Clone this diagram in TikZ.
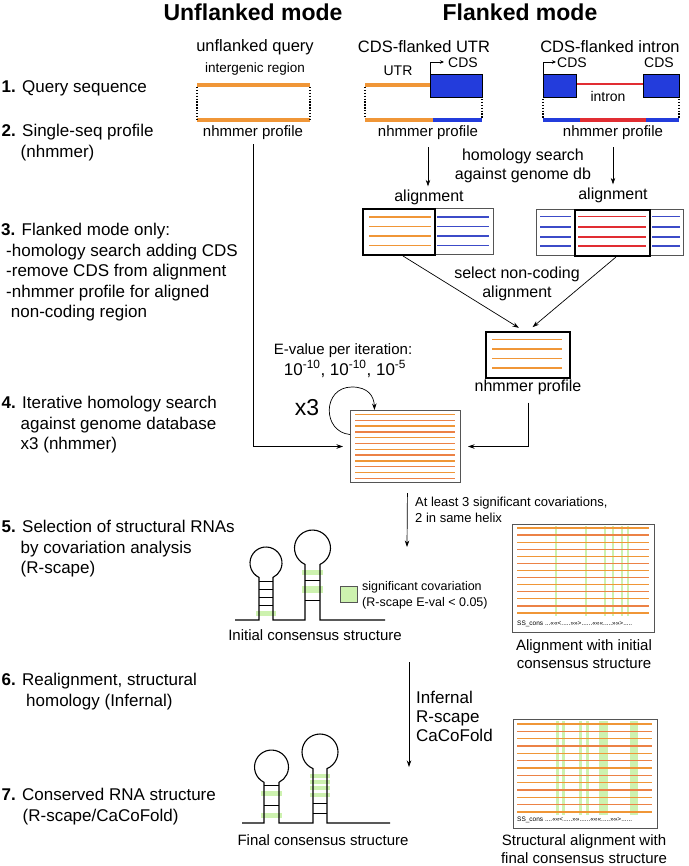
\documentclass[tikz,border=0pt]{standalone}
\usepackage{fontspec}
\setmainfont{Liberation Sans}
\usetikzlibrary{arrows.meta}
\definecolor{cor}{RGB}{240,150,55}
\definecolor{cor2}{RGB}{236,130,70}
\definecolor{cblue}{RGB}{35,60,220}
\definecolor{cbl}{RGB}{60,75,200}
\definecolor{cred}{RGB}{225,45,50}
\definecolor{cgreen}{RGB}{205,242,175}
\definecolor{cgray}{RGB}{85,85,85}
\newcommand\fsz[2]{\fontsize{#1}{#2}\selectfont}
\begin{document}
\begin{tikzpicture}[x=1pt,y=-1pt,
  txt/.style={inner sep=0pt, align=center},
  steplbl/.style={anchor=north west, inner sep=0pt, align=left, font=\fsz{17}{20.5}},
  arr/.style={-{Stealth[length=6.5pt,width=4.5pt]}, line width=0.7pt},
  smallarr/.style={-{Stealth[length=4pt,width=3.5pt]}, line width=0.7pt},
  dotv/.style={line width=1.4pt, dash pattern=on 1.3pt off 1.6pt},
  seq/.style={line width=3.2pt},
  alnline/.style={line width=1.25pt},
  cds/.style={draw=black, line width=0.6pt, fill=cblue, inner sep=0pt, anchor=north west, minimum height=23},
  panel/.style={draw=cgray, line width=1pt, inner sep=0pt, anchor=north west},
  thickbox/.style={draw=black, line width=2pt, inner sep=0pt, anchor=north west},
  stem/.style={line width=1.1pt},
  rung/.style={line width=0.9pt},
  gbar/.style={fill=cgreen, draw=none},
]
\useasboundingbox (0,0) rectangle (688,866);
% ---------------- headers
\node[txt, font=\fsz{23}{26}\bfseries] (hu) at (253,12) {Unflanked mode};
\node[txt, font=\fsz{23}{26}\bfseries] (hf) at (520,12) {Flanked mode};
% ---------------- step labels
\node[steplbl] (s1) at (1.5,80) {\textbf{1.} Query sequence};
\node[steplbl] (s2) at (1.5,124) {\textbf{2.} Single-seq profile\\\hspace*{19pt}(nhmmer)};
\node[steplbl] (s3) at (1,223) {\textbf{3.} Flanked mode only:\\\hspace*{5pt}-homology search adding CDS\\\hspace*{5pt}-remove CDS from alignment\\\hspace*{5pt}-nhmmer profile for aligned\\\hspace*{9.7pt}non-coding region};
\node[steplbl] (s4) at (1.5,396) {\textbf{4.} Iterative homology search\\\hspace*{19pt}against genome database\\\hspace*{19pt}x3 (nhmmer)};
\node[steplbl] (s5) at (1.5,520) {\textbf{5.} Selection of structural RNAs\\\hspace*{19pt}by covariation analysis\\\hspace*{19pt}(R-scape)};
\node[steplbl] (s6) at (1.5,673) {\textbf{6.} Realignment, structural\\\hspace*{24.5pt}homology (Infernal)};
\node[steplbl] (s7) at (1.5,788) {\textbf{7.} Conserved RNA structure\\\hspace*{21pt}(R-scape/CaCoFold)};
% ---------------- unflanked query
\node[txt, font=\fsz{16.5}{19}] (uq) at (255,47) {unflanked query};
\node[txt, font=\fsz{13.5}{16}] (ig) at (255,69) {intergenic region};
\draw[seq, cor] (197,85) -- (310,85);
\draw[seq, cor] (197,120) -- (310,120);
\draw[dotv] (197,87) -- (197,119);
\draw[dotv] (310,87) -- (310,119);
\node[txt, font=\fsz{15}{18}] (unp) at (253,133) {nhmmer profile};
% ---------------- CDS-flanked UTR
\node[txt, font=\fsz{16.5}{19}] (utrt) at (424,47) {CDS-flanked UTR};
\node[txt, font=\fsz{14}{16}] (utrl) at (398,71) {UTR};
\draw[seq, cor] (365,85) -- (431,85);
\node[cds, minimum width=52] (cds1) at (430,74) {};
\draw[smallarr] (cds1.north west) -- ++(0,-12) -- ++(14,0);
\node[txt, font=\fsz{14}{16}] (cdsl1) at (463,63) {CDS};
\draw[dotv] (365,87) -- (365,118);
\draw[dotv] (482,99) -- (482,118);
\draw[seq, cor] (365,120) -- (433,120);
\draw[seq, cblue] (433,120) -- (482,120);
\node[txt, font=\fsz{15}{18}] (utrp) at (428,133) {nhmmer profile};
% ---------------- CDS-flanked intron
\node[txt, font=\fsz{16.5}{19}] (intt) at (610,47) {CDS-flanked intron};
\draw[line width=2.8pt, cred] (576,84) -- (643,84);
\node[cds, minimum width=33] (cds2) at (543,74) {};
\node[cds, minimum width=36] (cds3) at (643,74) {};
\draw[smallarr] (cds2.north west) -- ++(0,-12) -- ++(13,0);
\node[txt, font=\fsz{14}{16}] (cdsl2) at (572,63) {CDS};
\node[txt, font=\fsz{14}{16}] (cdsl3) at (659,63) {CDS};
\node[txt, font=\fsz{14}{16}] (intl) at (608,96) {intron};
\draw[dotv] (543,99) -- (543,118);
\draw[dotv] (679,99) -- (679,118);
\draw[seq, cblue] (543,120) -- (580,120);
\draw[seq, cred] (580,120) -- (646,120);
\draw[seq, cblue] (646,120) -- (679,120);
\node[txt, font=\fsz{15}{18}] (intp) at (613,133) {nhmmer profile};
% ---------------- homology search to alignments
\node[txt, font=\fsz{16}{18.5}] (hom) at (523,166) {homology search\\against genome db};
\node[txt, font=\fsz{16}{18}] (al1l) at (429,197) {alignment};
\node[txt, font=\fsz{16}{18}] (al2l) at (613,195) {alignment};
\draw[arr, shorten <=7pt, shorten >=3pt] (utrp.south) -- (utrp.south |- al1l.north);
\draw[arr, shorten <=7pt, shorten >=3pt] (intp.south) -- (intp.south |- al2l.north);
% alignment 1
\node[panel, minimum width=131, minimum height=46] (aln1) at (362,208) {};
\foreach \yy in {217,226.5,236,245.5} {
  \draw[alnline, cor] (369,\yy) -- (431,\yy);
  \draw[alnline, cbl] (437,\yy) -- (489,\yy);
}
\node[thickbox, minimum width=72, minimum height=46] (aln1in) at (362,208) {};
% alignment 2
\node[panel, minimum width=147, minimum height=46] (aln2) at (536,209) {};
\foreach \yy in {216.5,227,237,246} {
  \draw[alnline, cbl] (540,\yy) -- (571,\yy);
  \draw[alnline, cred] (578,\yy) -- (646,\yy);
  \draw[alnline, cbl] (652,\yy) -- (680,\yy);
}
\node[thickbox, minimum width=75, minimum height=46] (aln2in) at (574,209) {};
% select non-coding
\node[txt, font=\fsz{16}{18.5}] (sel) at (517,284) {select non-coding\\alignment};
\node[thickbox, minimum width=84, minimum height=46] (prof) at (485,331) {};
\foreach \yy in {339.5,349,358.5,368} \draw[alnline, cor] (492,\yy) -- (562,\yy);
\node[txt, font=\fsz{16}{18}] (profl) at (528,387) {nhmmer profile};
\draw[arr, shorten >=6pt] ([xshift=4pt]aln1in.south) -- ([xshift=-4pt]prof.north);
\draw[arr, shorten >=6pt] ([xshift=3.5pt]aln2in.south) -- (prof.north);
% ---------------- iterative search
\node[panel, minimum width=110, minimum height=72] (iter) at (350,410) {};
\foreach \i in {0,...,11} {
  \pgfmathsetmacro\yy{414.5+5.8*\i}
  \ifodd\i\def\cc{cor2}\else\def\cc{cor}\fi
  \draw[alnline, \cc] (355,\yy) -- (455,\yy);
}
\draw[arr, shorten <=4pt, shorten >=7pt] (unp.south) |- (iter.west);
\draw[arr, shorten <=8pt, shorten >=7pt] (profl.south) |- (iter.east);
\node[txt, font=\fsz{15}{18}] (ev1) at (343,351) {E-value per iteration:};
\node[txt, font=\fsz{17}{19}] (ev2) at (345,369) {10\textsuperscript{-10}, 10\textsuperscript{-10}, 10\textsuperscript{-5}};
\node[txt, font=\fsz{23}{26}] (x3) at (307,408) {x3};
\draw[arr] ([yshift=12pt]iter.west) .. controls (322,432) and (322,387) .. (352,387) .. controls (368,387) and (374,396) .. ([xshift=-31pt]iter.north);
% ---------------- arrow to step 5
\coordinate (a5e) at (407,547);
\draw[arr, shorten <=10pt] ([xshift=2pt]iter.south) -- (a5e);
\node[anchor=north west, inner sep=0pt, align=left, font=\fsz{13}{15.5}] (a5l) at (415,497) {At least 3 significant covariations,\\2 in same helix};
% ---------------- initial structure
\fill[gbar] (256,610.5) rectangle (276,615.5);
\fill[gbar] (302,569.5) rectangle (323,574.5);
\fill[gbar] (302,586) rectangle (323,593);
\draw[stem] (235,620) -- (259,620) -- (259,577.4) arc[start angle=244.06, end angle=-64.06, radius=16pt] -- (273,620) -- (305,620) -- (305,564.4) arc[start angle=245.4, end angle=-65.4, radius=18pt] -- (320,620) -- (385,620);
\foreach \yy in {581,589,597,605} \draw[rung] (259,\yy) -- (273,\yy);
\foreach \yy in {580,600} \draw[rung] (305,\yy) -- (320,\yy);
\node[draw=cgray, fill=cgreen, line width=0.6pt, minimum width=17, minimum height=16, inner sep=0pt] (leg) at (348.5,594) {};
\node[anchor=west, inner sep=0pt, align=left, font=\fsz{12.5}{16}] (legt) at (362,595) {significant covariation\\(R-scape E-val < 0.05)};
\node[txt, font=\fsz{15}{18}] (ics) at (315,635) {Initial consensus structure};
% ---------------- panel 1
\node[panel, minimum width=142, minimum height=108] (pan1) at (512,524) {};
\foreach \xx in {556,586,605,613,622,628} \fill[gbar] ({\xx-1.4},526) rectangle ({\xx+1.4},616);
\foreach \i in {0,...,12} {
  \pgfmathsetmacro\yy{528+7.08*\i}
  \ifodd\i\def\cc{cor2}\else\def\cc{cor}\fi
  \draw[alnline, \cc] (517,\yy) -- (649,\yy);
}
\node[anchor=west, inner sep=0pt, font=\fsz{6.5}{7}] (ss1) at (517,624) {SS\_cons ...<<<<<.....>>>>>......<<<<<<.....>>>>>.....};
\node[txt, font=\fsz{15}{18}] (cap1) at (584,654) {Alignment with initial\\consensus structure};
% ---------------- arrow to step 6/7
\coordinate (a6s) at (409,662);
\coordinate (a6e) at (409,767);
\draw[arr] (a6s) -- (a6e);
\node[anchor=west, inner sep=0pt, align=left, font=\fsz{17}{19}] (a6l) at (416,716) {Infernal\\R-scape\\CaCoFold};
% ---------------- final structure
\fill[gbar] (261,790.5) rectangle (282,795.5);
\fill[gbar] (261,812.5) rectangle (282,817.5);
\foreach \yy in {776,782,788,795} \fill[gbar] (310,{\yy-2}) rectangle (330,{\yy+2});
\draw[stem] (242,823) -- (264,823) -- (264,782.3) arc[start angle=243.8, end angle=-63.8, radius=17pt] -- (279,823) -- (313,823) -- (313,768.6) arc[start angle=247.1, end angle=-67.1, radius=18pt] -- (327,823) -- (390,823);
\foreach \yy in {785,805} \draw[rung] (264,\yy) -- (279,\yy);
\foreach \yy in {803,813} \draw[rung] (313,\yy) -- (327,\yy);
\node[txt, font=\fsz{15}{18}] (fcs) at (323,840) {Final consensus structure};
% ---------------- panel 2
\node[panel, minimum width=144, minimum height=109] (pan2) at (513,719) {};
\foreach \xx in {557,563,580,587} \fill[gbar] ({\xx-1.5},721) rectangle ({\xx+1.5},815);
\fill[gbar] (598.5,721) rectangle (607.5,815);
\fill[gbar] (629.5,721) rectangle (637.5,815);
\foreach \i in {0,...,12} {
  \pgfmathsetmacro\yy{724+7.33*\i}
  \ifodd\i\def\cc{cor2}\else\def\cc{cor}\fi
  \draw[alnline, \cc] (517,\yy) -- (652,\yy);
}
\node[anchor=west, inner sep=0pt, font=\fsz{6.5}{7}] (ss2) at (517,820) {SS\_cons ....<<<<<.....>>>>......<<<<<<.....>>>>>......};
\node[txt, font=\fsz{15}{18}] (cap2) at (584,849) {Structural alignment with\\final consensus structure};
\end{tikzpicture}
\end{document}
